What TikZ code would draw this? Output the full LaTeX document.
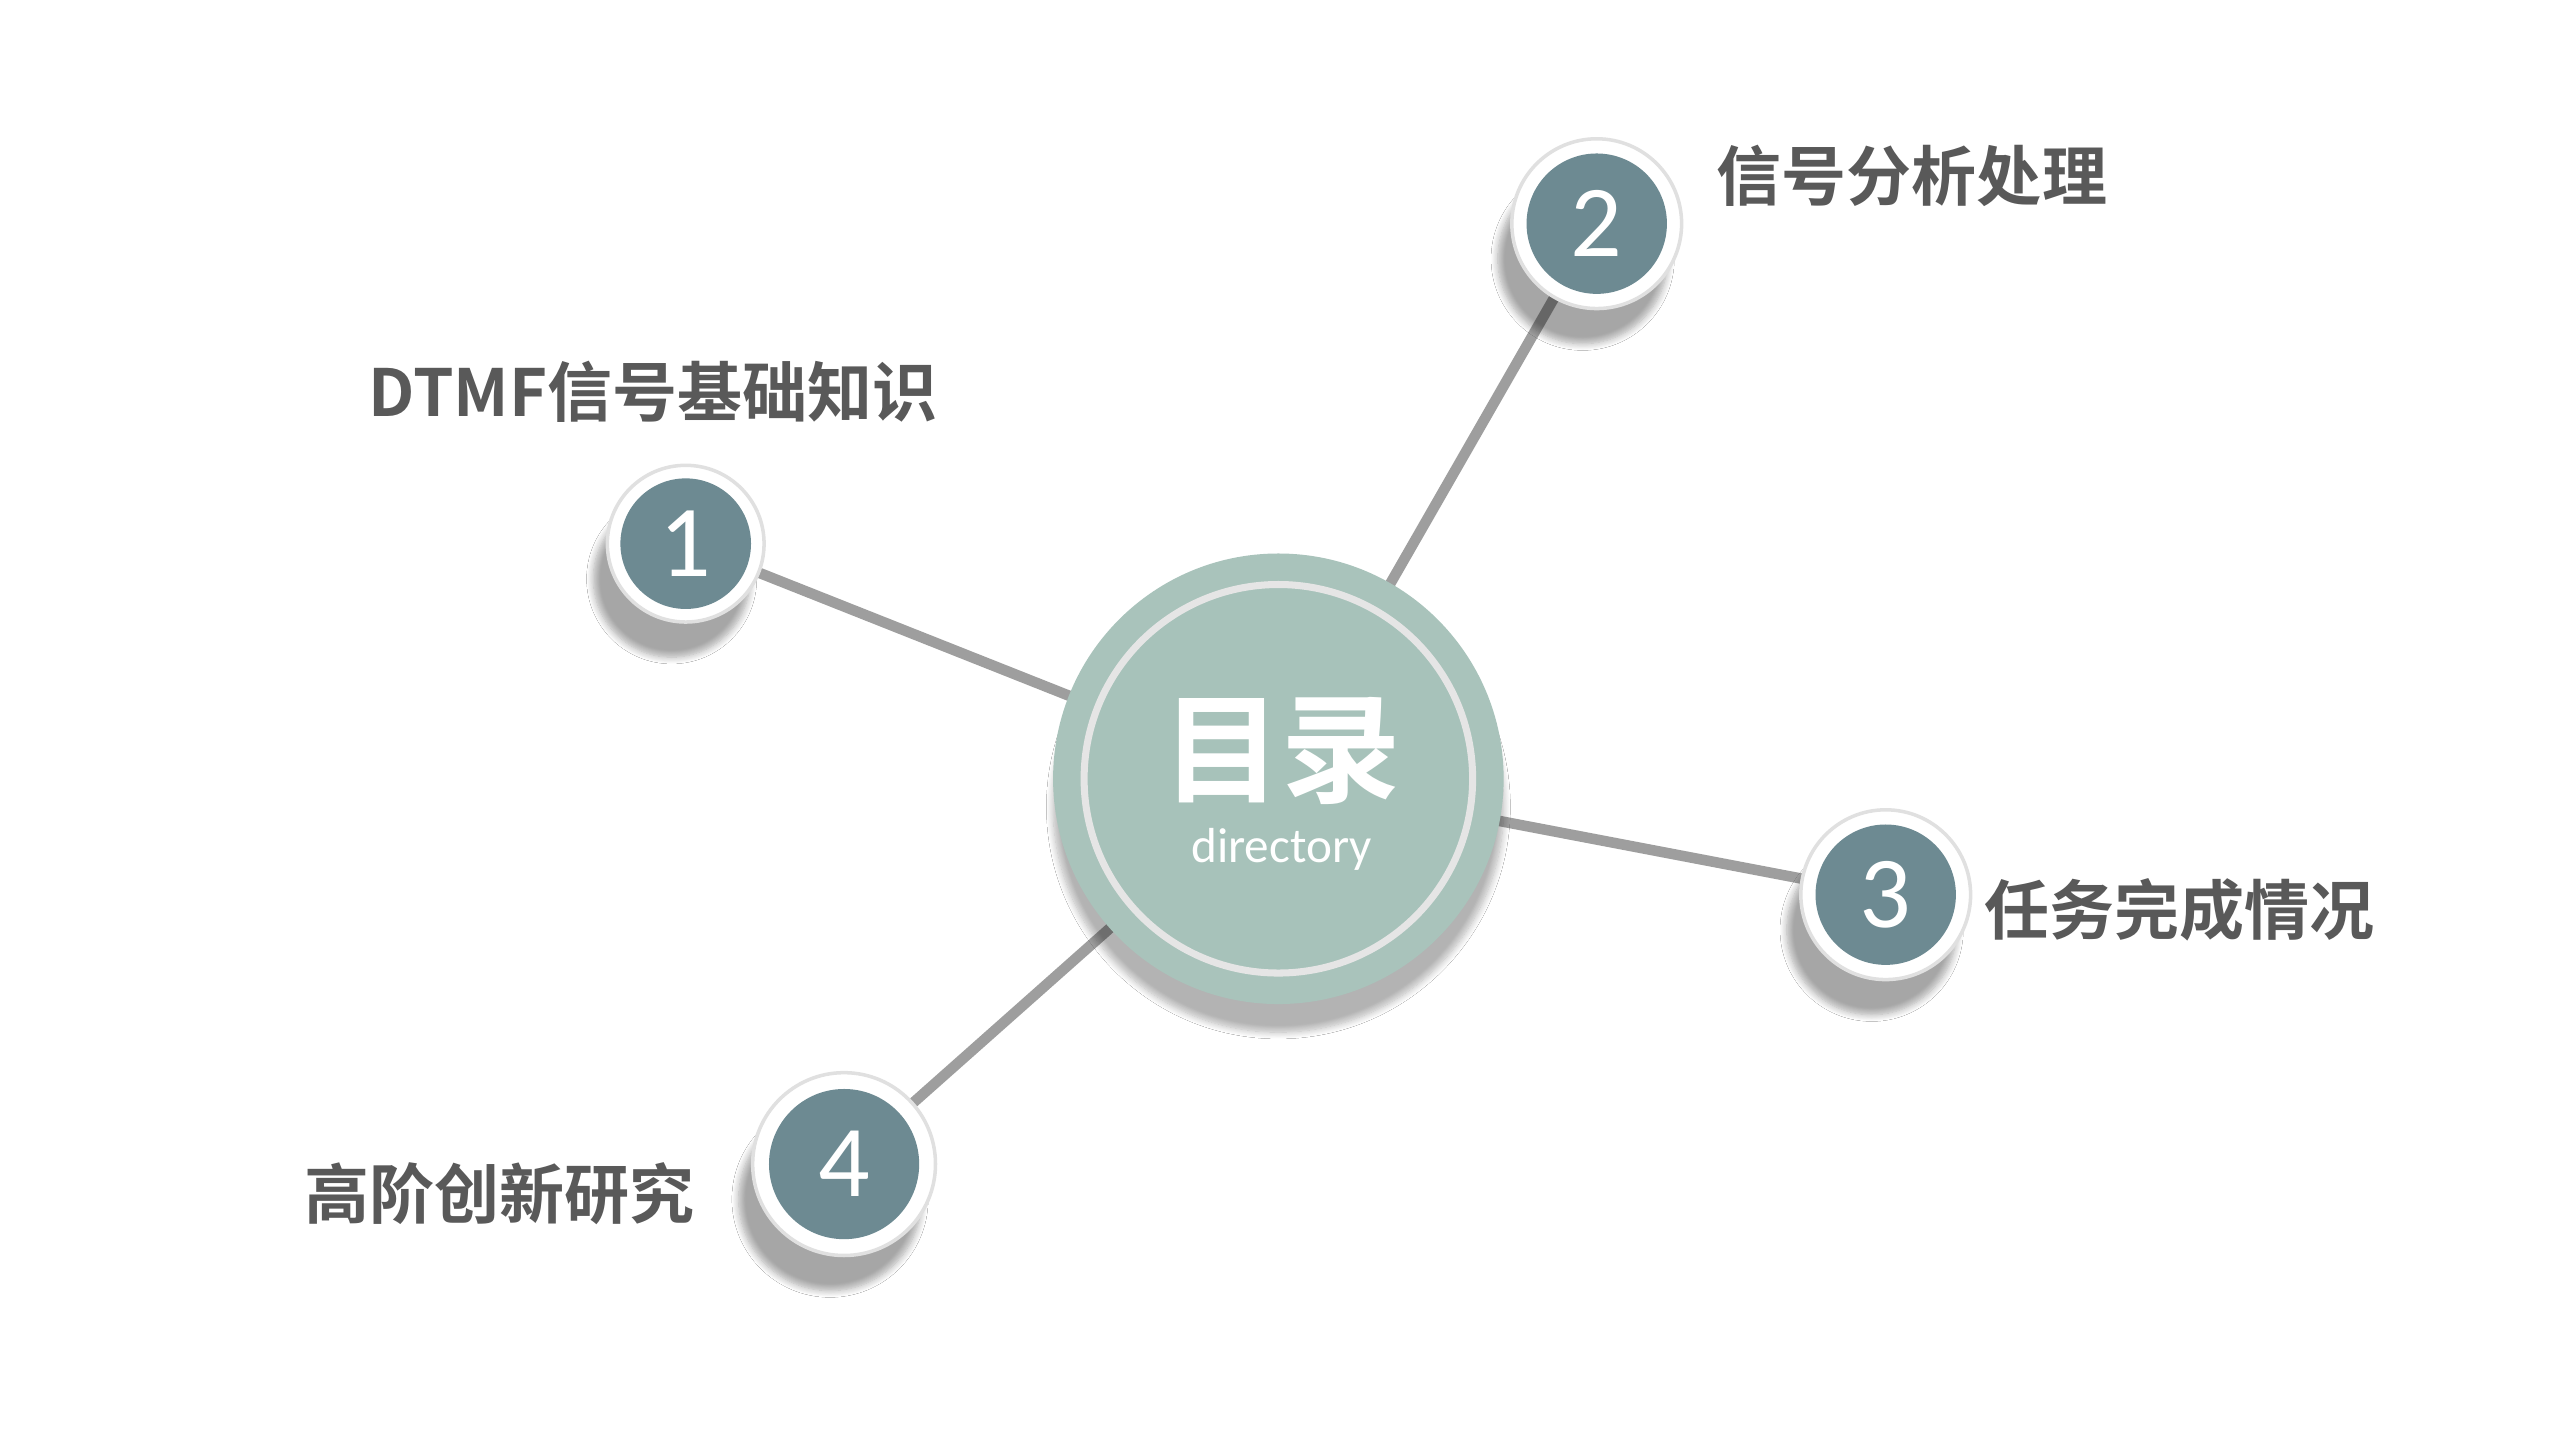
\documentclass[tikz,border=0pt]{standalone}
\usepackage{fontspec}
\setmainfont{Carlito}
\newfontfamily\cjk{Noto Sans CJK SC Bold}
\usetikzlibrary{shadows.blur}
\definecolor{teal1}{HTML}{A9C3BB}
\definecolor{teal2}{HTML}{A7C2BA}
\definecolor{slate}{HTML}{6D8A92}
\definecolor{lab}{HTML}{595959}
\definecolor{ln}{HTML}{9E9E9E}
\tikzset{
 ring/.style={circle,fill=white,draw=black!12,line width=1pt,blur shadow={shadow xshift=-4pt,shadow yshift=-10pt,shadow blur steps=8,shadow opacity=35}},
 num/.style={circle,fill=slate,text=white,font=\fontsize{29}{29}\selectfont,inner sep=0pt},
 lbl/.style={text=lab,font=\cjk\fontsize{18.5}{20}\selectfont},
 conn/.style={ln,line width=3pt}
}
\begin{document}
\begin{tikzpicture}[x=0.016327cm,y=-0.016327cm]
\useasboundingbox (0,0) rectangle (1568,882);
\fill[white] (0,0) rectangle (1568,882);
\coordinate (c) at (783,477);
\node[circle,minimum size=96pt*0.4645*2.1,inner sep=0pt] (r1) at (420,333) {};
\draw[conn] (c) -- (420,333);
\draw[conn] (c) -- (978,137);
\draw[conn] (c) -- (1155,548);
\draw[conn] (c) -- (517,713);
% center
\node[circle,fill=teal1,minimum size=276*0.4645pt,inner sep=0pt,blur shadow={shadow xshift=0pt,shadow yshift=-8pt,shadow blur steps=10,shadow opacity=30}] (cen) at (c) {};
\node[circle,fill=teal2,draw=black!10,line width=2pt,minimum size=238*0.4645pt,inner sep=0pt] (ceni) at (c) {};
\node[text=white,font=\cjk\fontsize{34}{34}\selectfont] (ml) at (785,460) {目录};
\node[text=white,font=\fontsize{14}{14}\selectfont] (dir) at (785,520) {directory};
% numbered
\foreach \n/\x/\y/\ro/\ri in {1/420/333/96/80,2/978/137/104/86,3/1155/548/104/86,4/517/713/112/92}{
 \node[ring,minimum size=\ro*0.4645pt,inner sep=0pt] (o\n) at (\x,\y) {};
 \node[num,minimum size=\ri*0.4645pt] (n\n) at (\x,\y) {\n};
}
\node[lbl] (t1) at (400,240) {DTMF信号基础知识};
\node[lbl,anchor=west] (t2) at (1044,108) {信号分析处理};
\node[lbl,anchor=west] (t3) at (1208,557) {任务完成情况};
\node[lbl,anchor=east] (t4) at (433,731) {高阶创新研究};
\end{tikzpicture}
\end{document}
